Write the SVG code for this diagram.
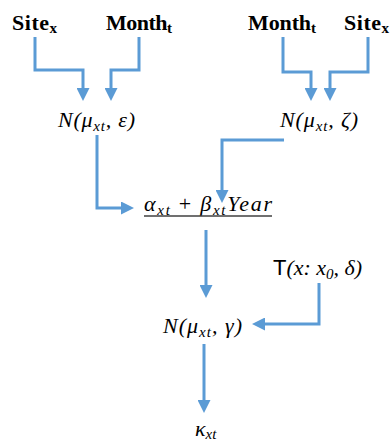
<svg xmlns="http://www.w3.org/2000/svg" width="390" height="443" viewBox="0 0 390 443">
<style>
.lbl{font-family:"Liberation Serif",serif;font-weight:bold;font-size:22px;fill:#000}
.sb{font-size:15px}
.m{font-family:"Liberation Serif",serif;font-style:italic;font-size:22px;fill:#000}
.ms{font-size:15px}
.c{fill:none;stroke:#5B9BD5;stroke-width:3;marker-end:url(#ah)}
</style>
<defs>
<marker id="ah" markerUnits="userSpaceOnUse" markerWidth="13" markerHeight="13" refX="0" refY="6.5" orient="auto" viewBox="0 0 13 13">
<path d="M0,0 L13,6.5 L0,13 z" fill="#5B9BD5"/>
</marker>
</defs>
<g id="connectors">
<path class="c" d="M35,37 V70 H83 V88"/>
<path class="c" d="M139,37 V70 H111 V88"/>
<path class="c" d="M283,37 V72 H311 V88"/>
<path class="c" d="M368,37 V72 H330 V88"/>
<path class="c" d="M97,135 V208 H121"/>
<path class="c" d="M284,140 H222 V190"/>
<path class="c" d="M206,230 V285"/>
<path class="c" d="M319,283 V324 H265"/>
<path class="c" d="M204,344 V400"/>
</g>
<g id="site-left"><text class="lbl" x="12" y="30" textLength="45">Site<tspan class="sb" dy="3">x</tspan></text></g>
<g id="month-left"><text class="lbl" x="106" y="30" textLength="66">Month<tspan class="sb" dy="3">t</tspan></text></g>
<g id="month-right"><text class="lbl" x="248" y="30" textLength="68">Month<tspan class="sb" dy="3">t</tspan></text></g>
<g id="site-right"><text class="lbl" x="344" y="30" textLength="45">Site<tspan class="sb" dy="3">x</tspan></text></g>
<g id="n-eps"><text class="m" x="58" y="127" textLength="77">N(μ<tspan class="ms" dy="4">xt</tspan><tspan dy="-4">, ε)</tspan></text></g>
<g id="n-zeta"><text class="m" x="280" y="127" textLength="78">N(μ<tspan class="ms" dy="4">xt</tspan><tspan dy="-4">, ζ)</tspan></text></g>
<g id="linear">
<text class="m" x="144" y="211" textLength="128">α<tspan class="ms" dy="4">xt</tspan><tspan dy="-4" font-style="normal"> + </tspan>β<tspan class="ms" dy="4">xt</tspan><tspan dy="-4">Year</tspan></text>
<line x1="144" y1="216" x2="272" y2="216" stroke="#404040" stroke-width="1.5"/>
</g>
<g id="t-dist"><text class="m" x="273" y="275" textLength="89"><tspan font-family="'Liberation Sans',sans-serif" font-style="normal">T</tspan>(x: x<tspan class="ms" dy="4">0</tspan><tspan dy="-4">, δ)</tspan></text></g>
<g id="n-gamma"><text class="m" x="163" y="333" textLength="79">N(μ<tspan class="ms" dy="4">xt</tspan><tspan dy="-4">, γ)</tspan></text></g>
<g id="kappa"><text class="m" x="195" y="436" font-size="24">κ<tspan class="ms" dy="3">xt</tspan></text></g>
</svg>
